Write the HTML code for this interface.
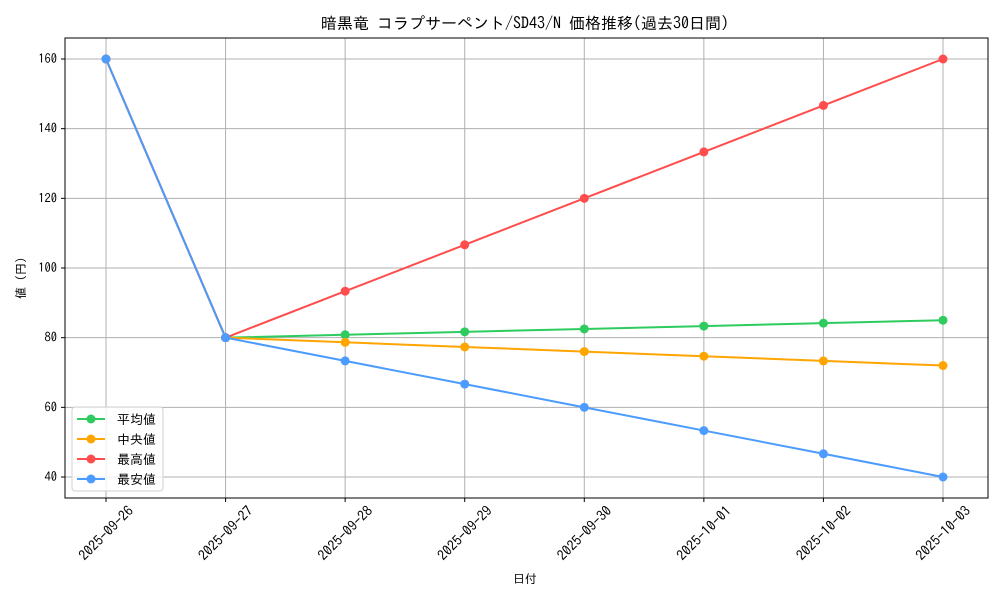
<!DOCTYPE html>
<html><head><meta charset="utf-8"><style>
body{margin:0;background:#fff}
svg text{font-family:"IPAGothic","Liberation Sans","Noto Sans CJK JP",sans-serif;fill:#000}
</style></head><body>
<svg id="chart" width="1000" height="600" xmlns="http://www.w3.org/2000/svg">
<rect width="1000" height="600" fill="#fff"/>
<text x="525" y="29" font-size="16" text-anchor="middle">暗黒竜 コラプサーペント/SD43/N 価格推移(過去30日間)</text>
<g id="grid"></g>
<g id="series"></g>
<g id="axes"></g>
<text x="525" y="583" font-size="12" text-anchor="middle">日付</text>
<text transform="translate(25,278) rotate(-90)" font-size="12" text-anchor="middle">値 (円)</text>
<g id="legend"></g>
</svg>
<script>
const categories=["2025-09-26","2025-09-27","2025-09-28","2025-09-29","2025-09-30","2025-10-01","2025-10-02","2025-10-03"];
const avgValues=[160,80,80.83,81.67,82.5,83.33,84.17,85];
const medianValues=[160,80,78.67,77.33,76,74.67,73.33,72];
const maxValues=[160,80,93.33,106.67,120,133.33,146.67,160];
const minValues=[160,80,73.33,66.67,60,53.33,46.67,40];
const yTicks=[40,60,80,100,120,140,160];
const seriesNames=["平均値","中央値","最高値","最安値"];

const NS="http://www.w3.org/2000/svg";
const L=65,R=988,T=38,B=498;
const x0=106,x1=943;
function xs(i){return x0+(x1-x0)*i/(categories.length-1);}
function ys(v){return 477+(40-v)*(477-59)/120;}
function mk(tag,attrs,parent){const e=document.createElementNS(NS,tag);for(const k in attrs)e.setAttribute(k,attrs[k]);parent.appendChild(e);return e;}
const grid=document.getElementById('grid'),axes=document.getElementById('axes'),ser=document.getElementById('series'),leg=document.getElementById('legend');
categories.forEach((c,i)=>{
  const g=mk('line',{x1:xs(i),x2:xs(i),y1:T,y2:B,stroke:'#b0b0b0','stroke-width':1},grid);
  
  
  mk('line',{x1:xs(i),x2:xs(i),y1:B,y2:B+4,stroke:'#000'},axes);
  const t=mk('text',{transform:`translate(${xs(i)},${B+35}) rotate(-45)`,'font-size':14,'text-anchor':'middle','dominant-baseline':'central'},axes);
  t.textContent=c;
  
  
});
yTicks.forEach(v=>{
  const g=mk('line',{x1:L,x2:R,y1:ys(v),y2:ys(v),stroke:'#b0b0b0','stroke-width':1},grid);
  
  
  mk('line',{x1:L-4,x2:L,y1:ys(v),y2:ys(v),stroke:'#000'},axes);
  const t=mk('text',{x:L-8,y:ys(v)+4,'font-size':12.5,'text-anchor':'end'},axes);
  t.textContent=v;
  
  
});
const frame=mk('rect',{x:L,y:T,width:R-L,height:B-T,fill:'none',stroke:'#000','stroke-width':1},axes);


const all=[[avgValues,'#2ecc5f'],[medianValues,'#ffa500'],[maxValues,'#ff4c4c'],[minValues,'#4c9bff']];
all.forEach(([vals,col],si)=>{
  const g=mk('g',{},ser);
  
  
  mk('polyline',{points:vals.map((v,i)=>xs(i)+','+ys(v)).join(' '),fill:'none',stroke:col,'stroke-width':2},g);
  vals.forEach((v,i)=>{
    const p=mk('circle',{cx:xs(i),cy:ys(v),r:4.5,fill:col},g);
    
    
  });
});
const box=mk('rect',{x:72,y:407,width:91,height:84,rx:3,fill:'#fff','fill-opacity':0.8,stroke:'#d0d0d0'},leg);


all.forEach(([v,col],i)=>{
  const y=419+i*20;
  const g=mk('g',{},leg);
  
  
  mk('line',{x1:77,x2:105,y1:y,y2:y,stroke:col,'stroke-width':2},g);
  mk('circle',{cx:91,cy:y,r:4.5,fill:col},g);
  const t=mk('text',{x:117,y:y+5,'font-size':13},g);
  t.textContent=seriesNames[i];
});
</script>
</body></html>
